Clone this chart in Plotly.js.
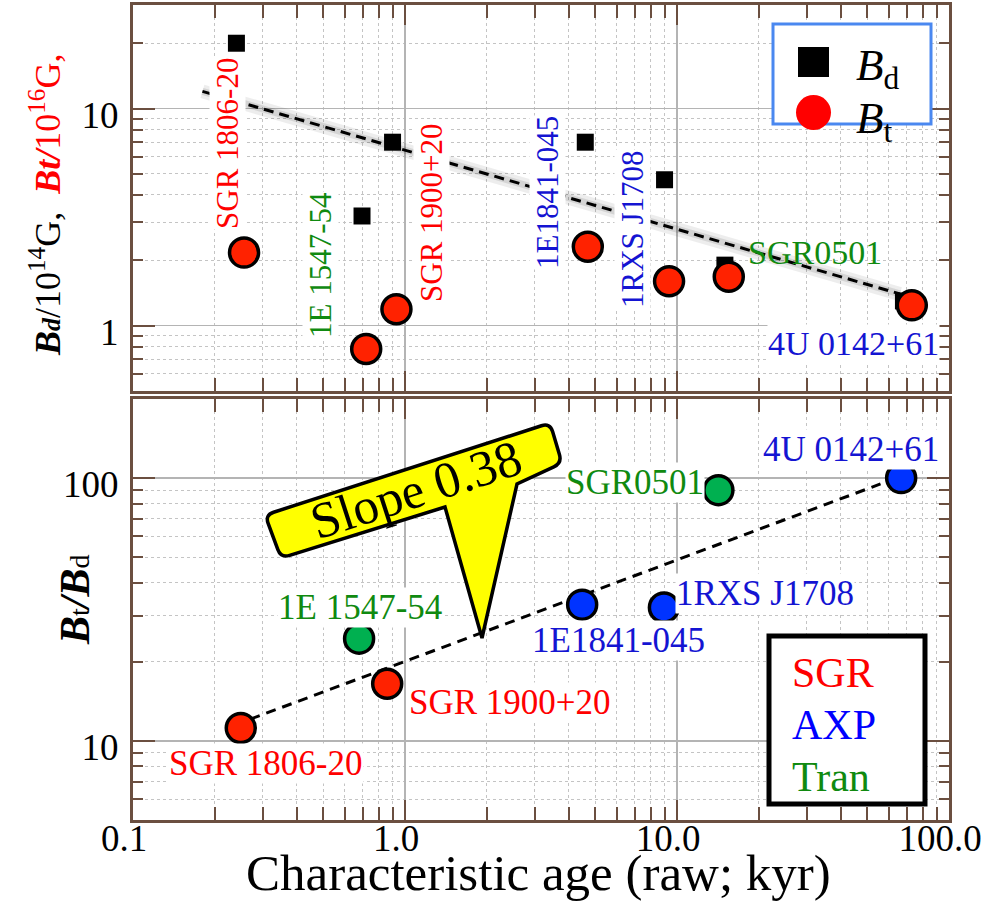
<!DOCTYPE html>
<html><head><meta charset="utf-8">
<script src="https://cdn.plot.ly/plotly-3.0.1.min.js"></script>
<style>html,body{margin:0;padding:0;background:#fff}#plot{width:986px;height:902px}</style>
</head><body><div id="plot"></div>
<script>
// ---------- data ----------
const names = ['SGR 1806-20','SGR 1900+20','1E 1547-54','1E1841-045','1RXS J1708','SGR0501','4U 0142+61'];
const types = ['SGR','SGR','Tran','AXP','AXP','Tran','AXP'];
const ageBd = [0.24, 0.90, 0.695, 4.6, 9.0, 15.0, 68];
const Bd    = [20, 7.0, 3.2, 7.0, 4.7, 1.9, 1.3];          // 10^14 G
const ageBt = [0.256, 0.93, 0.72, 4.7, 9.35, 15.5, 73];
const Bt    = [2.17, 1.19, 0.78, 2.31, 1.6, 1.68, 1.24];    // 10^16 G
const ageRatio = [0.249, 0.86, 0.678, 4.48, 8.95, 14.2, 66.7];
const ratio    = [11.2, 16.5, 24.5, 33, 32.2, 90, 100];     // Bt/Bd
const fitTopX = [0.18, 66], fitTopY = [12.0, 1.40];
const fitBotX = [0.27, 56], fitBotY = [12.1, 95];
const xTickVals = [0.1, 1, 10, 100], xTickText = ['0.1','1.0','10.0','100.0'];

// ---------- styles ----------
const SERIF = "'Liberation Serif', 'Times New Roman', serif";
const BROWN = '#6b4f40';
const markerCol = {SGR:'#ff2200', AXP:'#0033ff', Tran:'#00b050'};
const textCol = {SGR:'#ff0000', AXP:'#1414d2', Tran:'#108a10'};

// pixel -> paper helpers (plot area 133..949 x 5..820)
const L=133, R=949, T=5, B=820, W=R-L, H=B-T;
const px = x => (x-L)/W, py = y => (B-y)/H;

const xMinor = [0.2,0.3,0.4,0.5,0.6,0.7,0.8,0.9,2,3,4,5,6,7,8,9,20,30,40,50,60,70,80,90];
const yTopMinor = [0.5,0.6,0.7,0.8,0.9,2,3,4,5,6,7,8,9,20,30];
const yBotMinor = [5,6,7,8,9,20,30,40,50,60,70,80,90,200];

function xAxis(anchor, showLabels){
  return {type:'log', range:[-1,2], anchor:anchor, domain:[0,1],
    tickmode:'array', tickvals:xTickVals, ticktext:xTickText, showticklabels:showLabels,
    ticklabeloverflow:'allow', ticklabelstandoff:-16, ticklabelshift:-9,
    ticks:'inside', ticklen:20, tickwidth:2, tickcolor:BROWN,
    showline:true, linecolor:BROWN, linewidth:3, mirror:'ticks',
    showgrid:true, gridcolor:'#b4b4b4', gridwidth:1.5, zeroline:false,
    tickfont:{family:SERIF, size:37, color:'#000'},
    minor:{tickmode:'array', tickvals:xMinor, ticks:'inside', ticklen:13, tickwidth:2, tickcolor:BROWN,
      showgrid:true, gridcolor:'#c4c4c4', griddash:'dot', gridwidth:1}};
}
function yAxis(anchor, domain, range, tv, minor){
  return {type:'log', range:range, anchor:anchor, domain:domain,
    tickmode:'array', tickvals:tv, ticktext:tv.map(String),
    ticklabeloverflow:'allow', ticklabelstandoff:4, ticklabelshift:6,
    ticks:'inside', ticklen:22, tickwidth:2, tickcolor:BROWN,
    showline:true, linecolor:BROWN, linewidth:3, mirror:'ticks',
    showgrid:true, gridcolor:'#b4b4b4', gridwidth:1.5, zeroline:false,
    tickfont:{family:SERIF, size:37, color:'#000'},
    minor:{tickmode:'array', tickvals:minor, ticks:'inside', ticklen:10, tickwidth:2, tickcolor:BROWN,
      showgrid:true, gridcolor:'#c4c4c4', griddash:'dot', gridwidth:1}};
}

// ---------- traces ----------
const traces = [
  {x:fitTopX, y:fitTopY, xaxis:'x2', yaxis:'y2', mode:'lines', line:{color:'rgba(0,0,0,0.07)', width:14}, hoverinfo:'skip'},
  {x:fitTopX, y:fitTopY, xaxis:'x2', yaxis:'y2', mode:'lines', line:{color:'rgba(0,0,0,0.10)', width:7}, hoverinfo:'skip'},
  {x:fitTopX, y:fitTopY, xaxis:'x2', yaxis:'y2', mode:'lines', line:{color:'#000', width:3, dash:'10px,6px'}},
  {x:ageBd, y:Bd, xaxis:'x2', yaxis:'y2', mode:'markers', marker:{symbol:'square', size:17, color:'#000'}},
  {x:ageBt, y:Bt, xaxis:'x2', yaxis:'y2', mode:'markers', marker:{symbol:'circle', size:29, color:'#ff2200', line:{color:'#000', width:3.5}}},
  {x:fitBotX, y:fitBotY, xaxis:'x', yaxis:'y', mode:'lines', line:{color:'#000', width:3, dash:'10px,7px'}},
  {x:ageRatio, y:ratio, xaxis:'x', yaxis:'y', mode:'markers',
    marker:{symbol:'circle', size:29, color:types.map(t=>markerCol[t]), line:{color:'#000', width:3.5}}}
];

// ---------- label placement (pixels) ----------
const topLabelPos = [[227,144,-90],[432,213,-90],[320,265,-90],[547,193,-90],[633,229,-90],[815,252,0],[853,343,0]];
const botLabelPos = [[266,763],[510,702],[360,607],[618,640],[765,593],[635,483],[851,450]];

const ann = [];
names.forEach((n,i)=>{
  const p = topLabelPos[i];
  ann.push({xref:'paper', yref:'paper', x:px(p[0]), y:py(p[1]), text:n, textangle:p[2], showarrow:false,
    xanchor:'center', yanchor:'middle', font:{family:SERIF, size:p[2]? 31:34, color:textCol[types[i]]},
    bgcolor: (i===5)? 'rgba(0,0,0,0)':'#ffffff', borderpad:0});
  const q = botLabelPos[i];
  ann.push({xref:'paper', yref:'paper', x:px(q[0]), y:py(q[1]), text:n, showarrow:false,
    xanchor:'center', yanchor:'middle', font:{family:SERIF, size:35, color:textCol[types[i]]},
    bgcolor:'#ffffff', borderpad:0});
});
// axis titles
ann.push({xref:'paper', yref:'paper', x:px(45), y:py(205), textangle:-90, showarrow:false, xanchor:'center', yanchor:'middle',
  text:"<b><i>B</i></b><b><i><span style='font-size:26px'>d</span></i></b>/10<sup>14</sup>G,  <span style='color:#ff0000'><b><i>Bt/</i></b>10<sup>16</sup>G,</span>",
  font:{family:SERIF, size:36, color:'#000'}});
ann.push({xref:'paper', yref:'paper', x:px(75), y:py(600), textangle:-90, showarrow:false, xanchor:'center', yanchor:'middle',
  text:"<b><i>B</i></b><span style='font-size:28px'>t</span><b><i>/B</i></b><span style='font-size:28px'>d</span>",
  font:{family:SERIF, size:42, color:'#000'}});
ann.push({xref:'paper', yref:'paper', x:px(538), y:py(873), showarrow:false, xanchor:'center', yanchor:'middle',
  text:'Characteristic age (raw; kyr)', font:{family:SERIF, size:51, color:'#000'}});
// callout text
ann.push({xref:'paper', yref:'paper', x:px(416), y:py(490), textangle:-18, showarrow:false, xanchor:'center', yanchor:'middle',
  text:'Slope 0.38', font:{family:SERIF, size:51, color:'#000'}});
// top legend labels
ann.push({xref:'paper', yref:'paper', x:px(854), y:py(68), showarrow:false, xanchor:'left', yanchor:'middle',
  text:"<i>B</i><sub>d</sub>", font:{family:SERIF, size:45, color:'#000'}});
ann.push({xref:'paper', yref:'paper', x:px(854), y:py(121), showarrow:false, xanchor:'left', yanchor:'middle',
  text:"<i>B</i><sub>t</sub>", font:{family:SERIF, size:45, color:'#000'}});
// bottom legend labels
[['SGR','#ff0000',673],['AXP','#0000ff',725],['Tran','#108a10',777]].forEach(a=>{
  ann.push({xref:'paper', yref:'paper', x:px(790), y:py(a[2]), showarrow:false, xanchor:'left', yanchor:'middle',
    text:a[0], font:{family:SERIF, size:42, color:a[1]}});
});

// ---------- callout shape ----------
function calloutPath(){
  const pts = [[265,515],[550,423],[562,463],[517,484],[482,638],[445,507],[281,558]];
  const rnd = [1,1,1,0,0,0,1];
  const r = 9;
  let d = '';
  const f = p => px(p[0]).toFixed(5)+','+py(p[1]).toFixed(5);
  pts.forEach((p,i)=>{
    const cmd = i===0 ? 'M' : 'L';
    if(rnd[i]){
      const pr = pts[(i-1+pts.length)%pts.length], nx = pts[(i+1)%pts.length];
      const u = (a,b)=>{const dx=b[0]-a[0], dy=b[1]-a[1], l=Math.hypot(dx,dy); return [a[0]+r*dx/l, a[1]+r*dy/l];};
      d += cmd+f(u(p,pr))+' Q'+f(p)+' '+f(u(p,nx))+' ';
    } else d += cmd+f(p)+' ';
  });
  return d+'Z';
}

const shapes = [
  {type:'path', xref:'paper', yref:'paper', path:calloutPath(), fillcolor:'#ffff00', line:{color:'#000', width:3.5}, layer:'above'},
  {type:'rect', xref:'paper', yref:'paper', x0:px(773), x1:px(931), y0:py(24), y1:py(124), fillcolor:'#fff', line:{color:'#4a88f0', width:3}, layer:'above'},
  {type:'rect', xref:'paper', yref:'paper', x0:px(798), x1:px(829), y0:py(47), y1:py(77), fillcolor:'#000', line:{width:0}, layer:'above'},
  {type:'circle', xref:'paper', yref:'paper', x0:px(796), x1:px(831), y0:py(95), y1:py(130), fillcolor:'#ff0000', line:{width:0}, layer:'above'},
  {type:'rect', xref:'paper', yref:'paper', x0:px(769), x1:px(925), y0:py(636), y1:py(804), fillcolor:'#fff', line:{color:'#000', width:5}, layer:'above'}
];

const layout = {
  width:986, height:902, margin:{l:L, r:986-R, t:T, b:902-B},
  paper_bgcolor:'#fff', plot_bgcolor:'#fff', showlegend:false,
  xaxis: xAxis('y', true),
  xaxis2: Object.assign(xAxis('y2', false), {matches:'x'}),
  yaxis: yAxis('x', [0, py(399)], [Math.log10(5), Math.log10(200)], [10,100], yBotMinor),
  yaxis2: yAxis('x2', [py(391), 1], [Math.log10(0.5), Math.log10(30)], [1,10], yTopMinor),
  annotations: ann, shapes: shapes
};
Plotly.newPlot('plot', traces, layout, {displayModeBar:false, staticPlot:true});
</script></body></html>
